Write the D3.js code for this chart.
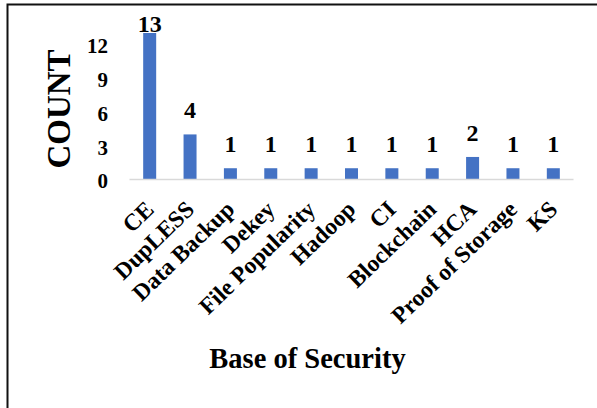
<!DOCTYPE html>
<html>
<head>
<meta charset="utf-8">
<script src="https://cdn.jsdelivr.net/npm/d3@7"></script>
<style>
  html, body { margin: 0; padding: 0; background: #fff; }
  svg { display: block; }
  svg text { font-family: "Liberation Serif", "Times New Roman", serif !important; font-weight: bold; fill: #000; }
</style>
</head>
<body>
<svg id="chart" width="597" height="408"></svg>
<script>
// Base-of-security categories and their counts
const categories = ["CE", "DupLESS", "Data Backup", "Dekey", "File Popularity", "Hadoop",
                    "CI", "Blockchain", "HCA", "Proof of Storage", "KS"];
const counts = [13, 4, 1, 1, 1, 1, 1, 1, 2, 1, 1];
const yTicks = [0, 3, 6, 9, 12];
const yTitle = "COUNT";
const xTitle = "Base of Security";

const serif = '"Liberation Serif", "Times New Roman", serif';
const svg = d3.select("#chart");

// Frame around the figure
svg.append("rect")
  .attr("x", 7.5).attr("y", 4.5)
  .attr("width", 620).attr("height", 420)
  .attr("fill", "none").attr("stroke", "#111").attr("stroke-width", 2);

const x = d3.scaleBand()
  .domain(categories)
  .range([129.5, 573.5])
  .paddingInner(0.678)
  .paddingOuter(0.339);

const y = d3.scaleLinear()
  .domain([0, 13])
  .range([179.5, 33]);

// Bars
svg.append("g").selectAll("rect")
  .data(categories)
  .join("rect")
  .attr("x", d => x(d))
  .attr("y", (d, i) => y(counts[i]))
  .attr("width", x.bandwidth())
  .attr("height", (d, i) => y(0) - y(counts[i]))
  .attr("fill", "#4472C4");

// Category axis line
svg.append("line")
  .attr("x1", 129.5).attr("x2", 573.5)
  .attr("y1", y(0)).attr("y2", y(0))
  .attr("stroke", "#d9d9d9").attr("stroke-width", 1.5);

// Value axis tick labels (no axis line)
const yAxis = d3.axisLeft(y).tickValues(yTicks).tickSize(0).tickPadding(0);
const yg = svg.append("g").attr("transform", "translate(108,0)").call(yAxis)
  .attr("font-family", null).attr("font-size", null);
yg.select(".domain").remove();
yg.selectAll("text")
  .style("font-family", serif)
  .style("font-weight", "bold")
  .style("font-size", "21px")
  .attr("fill", "#000")
  .attr("dy", "0.4em");

// Data labels above bars, kept inside the plot area
svg.append("g").selectAll("text")
  .data(categories)
  .join("text")
  .attr("x", d => x(d) + x.bandwidth() / 2)
  .attr("y", (d, i) => Math.max(y(counts[i]) - 16, 31.5))
  .attr("text-anchor", "middle")
  .style("font-size", "24px")
  .text((d, i) => counts[i]);

// Rotated category labels
svg.append("g").selectAll("text")
  .data(categories)
  .join("text")
  .attr("transform", d => `translate(${x(d) + x.bandwidth() / 2 + 5.5},211) rotate(-44)`)
  .attr("text-anchor", "end")
  .style("font-size", "23.5px")
  .text(d => d);

// Axis titles
svg.append("text")
  .attr("transform", "translate(70,109) rotate(-90)")
  .attr("text-anchor", "middle")
  .style("font-size", "33px")
  .text(yTitle);

svg.append("text")
  .attr("x", 307.5).attr("y", 367.5)
  .attr("text-anchor", "middle")
  .style("font-size", "28.5px")
  .text(xTitle);
</script>
</body>
</html>
